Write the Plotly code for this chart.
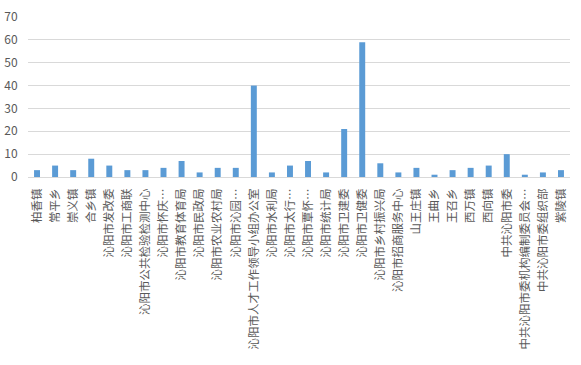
import plotly.graph_objects as go

categories = [
    "柏香镇", "常平乡", "崇义镇", "合乡镇", "沁阳市发改委", "沁阳市工商联",
    "沁阳市公共检验检测中心", "沁阳市怀庆…", "沁阳市教育体育局", "沁阳市民政局",
    "沁阳市农业农村局", "沁阳市沁园…", "沁阳市人才工作领导小组办公室", "沁阳市水利局",
    "沁阳市太行…", "沁阳市覃怀…", "沁阳市统计局", "沁阳市卫建委", "沁阳市卫健委",
    "沁阳市乡村振兴局", "沁阳市招商服务中心", "山王庄镇", "王曲乡", "王召乡",
    "西万镇", "西向镇", "中共沁阳市委", "中共沁阳市委机构编制委员会…",
    "中共沁阳市委组织部", "紫陵镇",
]
values = [3, 5, 3, 8, 5, 3, 3, 4, 7, 2, 4, 4, 40, 2, 5, 7, 2, 21, 59, 6, 2, 4, 1, 3, 4, 5, 10, 1, 2, 3]
y_ticks = [0, 10, 20, 30, 40, 50, 60, 70]

font = "Noto Sans CJK SC, Microsoft YaHei, sans-serif"

fig = go.Figure(go.Bar(x=categories, y=values, marker_color="#5B9BD5", marker_line_width=0))
fig.update_layout(
    width=581, height=365,
    margin=dict(l=28, r=11, t=17, b=188, autoexpand=False),
    paper_bgcolor="white", plot_bgcolor="white",
    bargap=0.67, showlegend=False,
    font=dict(family=font, size=11.5, color="#595959"),
)
fig.update_yaxes(
    range=[0, 70], tickvals=y_ticks, showgrid=True, gridcolor="#D9D9D9", gridwidth=1,
    zeroline=True, zerolinecolor="#D9D9D9", zerolinewidth=1, automargin=False,
    ticks="outside", ticklen=7, tickcolor="rgba(0,0,0,0)", tickfont=dict(size=12, color="#595959"),
)
fig.update_xaxes(
    tickangle=-90, automargin=False, showline=False, showgrid=False,
    ticks="outside", ticklen=6, tickcolor="rgba(0,0,0,0)",
    tickfont=dict(size=11.5, color="#595959"),
)
fig.write_html("out.html")
